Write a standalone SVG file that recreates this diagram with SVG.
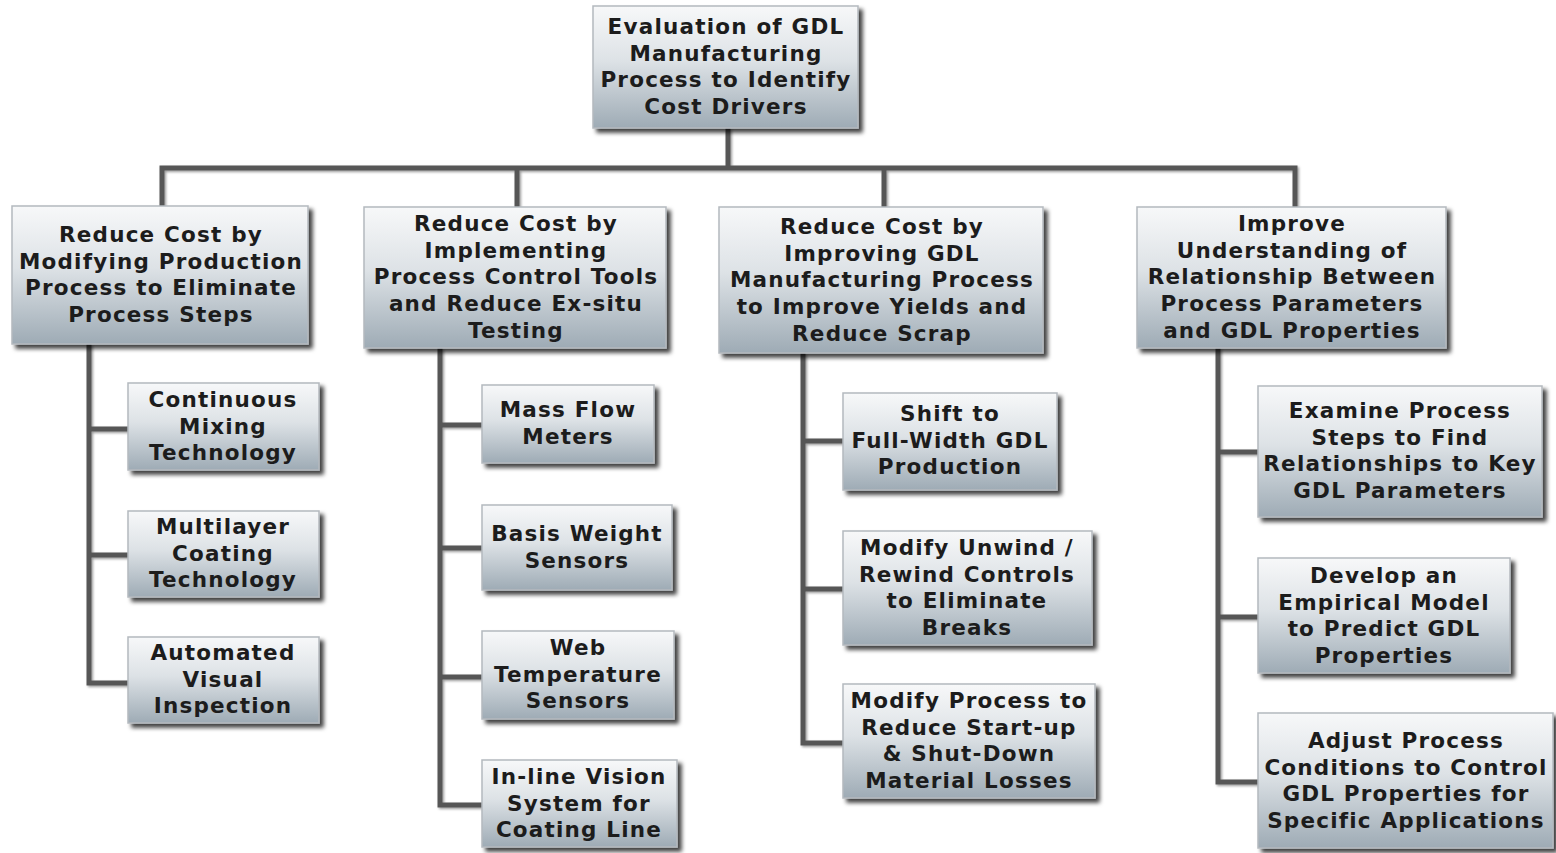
<svg xmlns="http://www.w3.org/2000/svg" width="1556" height="853" viewBox="0 0 1556 853">
<defs>
<linearGradient id="g" x1="0" y1="0" x2="0" y2="1">
<stop offset="0" stop-color="#f7f8f9"/>
<stop offset="0.45" stop-color="#dde2e6"/>
<stop offset="1" stop-color="#9eabb5"/>
</linearGradient>
<filter id="sh" x="-10%" y="-10%" width="125%" height="130%">
<feDropShadow dx="4" dy="4" stdDeviation="2.2" flood-color="#000" flood-opacity="0.75"/>
</filter>
<filter id="lsh" filterUnits="userSpaceOnUse" x="0" y="0" width="1556" height="853">
<feDropShadow dx="1.5" dy="1.5" stdDeviation="1" flood-color="#000" flood-opacity="0.4"/>
</filter>
</defs>
<style>
.box{fill:url(#g);stroke:#b4b9be;stroke-width:1.5;filter:url(#sh)}
.t{font-family:"DejaVu Sans","Verdana",sans-serif;font-weight:bold;font-size:21.5px;letter-spacing:1.2px;fill:#1c1c1c;text-anchor:middle}
.c{fill:none;stroke:#575757;stroke-width:5}
</style>
<rect width="1556" height="853" fill="#ffffff"/>
<g id="connectors" filter="url(#lsh)">
<path class="c" d="M728,128 V168"/>
<path class="c" d="M162,207 V168 H1295 V207"/>
<path class="c" d="M517,168 V207"/>
<path class="c" d="M884,168 V207"/>
<path class="c" d="M89,344 V683 H128"/>
<path class="c" d="M89,429 H128"/>
<path class="c" d="M89,555 H128"/>
<path class="c" d="M440,348 V805 H482"/>
<path class="c" d="M440,425 H482"/>
<path class="c" d="M440,548 H482"/>
<path class="c" d="M440,677 H482"/>
<path class="c" d="M803,353 V743 H843"/>
<path class="c" d="M803,441 H843"/>
<path class="c" d="M803,589 H843"/>
<path class="c" d="M1218,348 V782 H1258"/>
<path class="c" d="M1218,452 H1258"/>
<path class="c" d="M1218,617 H1258"/>
</g>
<g id="n0"><rect class="box" x="593" y="6" width="265" height="122"/>
<text class="t" y="34"><tspan x="726">Evaluation of GDL</tspan><tspan x="726" dy="26.7">Manufacturing</tspan><tspan x="726" dy="26.7">Process to Identify</tspan><tspan x="726" dy="26.7">Cost Drivers</tspan></text></g>
<g id="n1"><rect class="box" x="12" y="206" width="296" height="138"/>
<text class="t" y="242"><tspan x="161">Reduce Cost by</tspan><tspan x="161" dy="26.7">Modifying Production</tspan><tspan x="161" dy="26.7">Process to Eliminate</tspan><tspan x="161" dy="26.7">Process Steps</tspan></text></g>
<g id="n2"><rect class="box" x="364" y="207" width="302" height="141"/>
<text class="t" y="231"><tspan x="516">Reduce Cost by</tspan><tspan x="516" dy="26.7">Implementing</tspan><tspan x="516" dy="26.7">Process Control Tools</tspan><tspan x="516" dy="26.7">and Reduce Ex-situ</tspan><tspan x="516" dy="26.7">Testing</tspan></text></g>
<g id="n3"><rect class="box" x="719" y="207" width="324" height="146"/>
<text class="t" y="234"><tspan x="882">Reduce Cost by</tspan><tspan x="882" dy="26.7">Improving GDL</tspan><tspan x="882" dy="26.7">Manufacturing Process</tspan><tspan x="882" dy="26.7">to Improve Yields and</tspan><tspan x="882" dy="26.7">Reduce Scrap</tspan></text></g>
<g id="n4"><rect class="box" x="1137" y="207" width="309" height="141"/>
<text class="t" y="231"><tspan x="1292">Improve</tspan><tspan x="1292" dy="26.7">Understanding of</tspan><tspan x="1292" dy="26.7">Relationship Between</tspan><tspan x="1292" dy="26.7">Process Parameters</tspan><tspan x="1292" dy="26.7">and GDL Properties</tspan></text></g>
<g id="n11"><rect class="box" x="128" y="383" width="191" height="87"/>
<text class="t" y="407"><tspan x="223">Continuous</tspan><tspan x="223" dy="26.7">Mixing</tspan><tspan x="223" dy="26.7">Technology</tspan></text></g>
<g id="n12"><rect class="box" x="128" y="511" width="191" height="86"/>
<text class="t" y="534"><tspan x="223">Multilayer</tspan><tspan x="223" dy="26.7">Coating</tspan><tspan x="223" dy="26.7">Technology</tspan></text></g>
<g id="n13"><rect class="box" x="128" y="637" width="191" height="86"/>
<text class="t" y="660"><tspan x="223">Automated</tspan><tspan x="223" dy="26.7">Visual</tspan><tspan x="223" dy="26.7">Inspection</tspan></text></g>
<g id="n21"><rect class="box" x="482" y="385" width="172" height="78"/>
<text class="t" y="417"><tspan x="568">Mass Flow</tspan><tspan x="568" dy="26.7">Meters</tspan></text></g>
<g id="n22"><rect class="box" x="482" y="505" width="190" height="85"/>
<text class="t" y="541"><tspan x="577">Basis Weight</tspan><tspan x="577" dy="26.7">Sensors</tspan></text></g>
<g id="n23"><rect class="box" x="482" y="631" width="192" height="88"/>
<text class="t" y="655"><tspan x="578">Web</tspan><tspan x="578" dy="26.7">Temperature</tspan><tspan x="578" dy="26.7">Sensors</tspan></text></g>
<g id="n24"><rect class="box" x="482" y="760" width="195" height="87"/>
<text class="t" y="784"><tspan x="579">In-line Vision</tspan><tspan x="579" dy="26.7">System for</tspan><tspan x="579" dy="26.7">Coating Line</tspan></text></g>
<g id="n31"><rect class="box" x="843" y="393" width="214" height="97"/>
<text class="t" y="421"><tspan x="950">Shift to</tspan><tspan x="950" dy="26.7">Full-Width GDL</tspan><tspan x="950" dy="26.7">Production</tspan></text></g>
<g id="n32"><rect class="box" x="843" y="531" width="249" height="114"/>
<text class="t" y="555"><tspan x="967">Modify Unwind /</tspan><tspan x="967" dy="26.7">Rewind Controls</tspan><tspan x="967" dy="26.7">to Eliminate</tspan><tspan x="967" dy="26.7">Breaks</tspan></text></g>
<g id="n33"><rect class="box" x="843" y="684" width="252" height="114"/>
<text class="t" y="708"><tspan x="969">Modify Process to</tspan><tspan x="969" dy="26.7">Reduce Start-up</tspan><tspan x="969" dy="26.7">&amp; Shut-Down</tspan><tspan x="969" dy="26.7">Material Losses</tspan></text></g>
<g id="n41"><rect class="box" x="1258" y="386" width="284" height="131"/>
<text class="t" y="418"><tspan x="1400">Examine Process</tspan><tspan x="1400" dy="26.7">Steps to Find</tspan><tspan x="1400" dy="26.7">Relationships to Key</tspan><tspan x="1400" dy="26.7">GDL Parameters</tspan></text></g>
<g id="n42"><rect class="box" x="1258" y="558" width="252" height="115"/>
<text class="t" y="583"><tspan x="1384">Develop an</tspan><tspan x="1384" dy="26.7">Empirical Model</tspan><tspan x="1384" dy="26.7">to Predict GDL</tspan><tspan x="1384" dy="26.7">Properties</tspan></text></g>
<g id="n43"><rect class="box" x="1258" y="713" width="295" height="135"/>
<text class="t" y="748"><tspan x="1406">Adjust Process</tspan><tspan x="1406" dy="26.7">Conditions to Control</tspan><tspan x="1406" dy="26.7">GDL Properties for</tspan><tspan x="1406" dy="26.7">Specific Applications</tspan></text></g>
</svg>
